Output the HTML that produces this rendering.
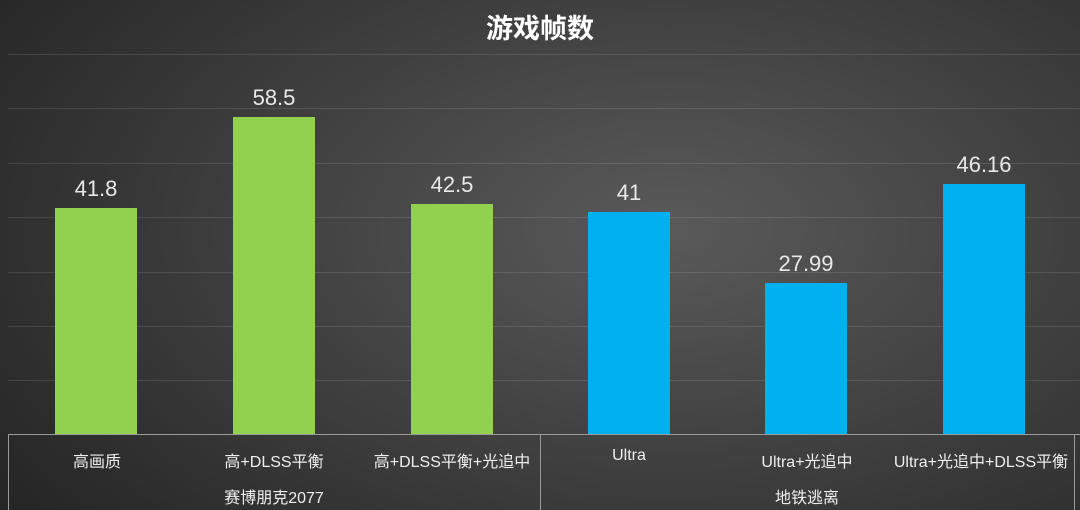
<!DOCTYPE html>
<html><head><meta charset="utf-8"><style>
body{margin:0}
.c{position:relative;width:1080px;height:510px;overflow:hidden;background:radial-gradient(ellipse 75% 90% at 62% 45%,#5a5a5a 0%,#404040 50%,#262626 100%);font-family:"Liberation Sans","Noto Sans CJK SC",sans-serif;color:#e6e6e6}
.g{position:absolute;left:8px;right:0;height:1px;background:rgba(255,255,255,0.11)}
.b{position:absolute;width:82px}
.v{position:absolute;width:120px;text-align:center;font-size:22px;color:#e8e8e8}
.l{position:absolute;width:178px;text-align:center;font-size:16px;color:#eee}
.vl{position:absolute;width:1px;background:#9a9a9a;top:435px;height:75px}
</style></head><body><div class="c">
<div style="position:absolute;left:0;width:1080px;top:7px;text-align:center;font-size:27px;font-weight:bold;color:#fff">游戏帧数</div>
<div class="g" style="top:54px"></div><div class="g" style="top:108px"></div><div class="g" style="top:163px"></div><div class="g" style="top:217px"></div><div class="g" style="top:272px"></div><div class="g" style="top:326px"></div><div class="g" style="top:380px"></div>
<div style="position:absolute;left:8px;right:0;top:434px;height:1px;background:#9a9a9a"></div>
<div class="vl" style="left:8px"></div><div class="vl" style="left:540px"></div><div class="vl" style="left:1074px"></div>

<div class="b" style="left:55px;top:208px;height:226px;background:#92d050"></div>
<div class="b" style="left:233px;top:117px;height:317px;background:#92d050"></div>
<div class="b" style="left:411px;top:204px;height:230px;background:#92d050"></div>
<div class="b" style="left:588px;top:212px;height:222px;background:#00b0f0"></div>
<div class="b" style="left:765px;top:283px;height:151px;background:#00b0f0"></div>
<div class="b" style="left:943px;top:184px;height:250px;background:#00b0f0"></div>

<div class="v" style="left:36px;top:176px">41.8</div>
<div class="v" style="left:214px;top:85px">58.5</div>
<div class="v" style="left:392px;top:172px">42.5</div>
<div class="v" style="left:569px;top:180px">41</div>
<div class="v" style="left:746px;top:251px">27.99</div>
<div class="v" style="left:924px;top:152px">46.16</div>

<div class="l" style="left:8px;top:448px">高画质</div>
<div class="l" style="left:185px;top:448px">高+DLSS平衡</div>
<div class="l" style="left:363px;top:448px">高+DLSS平衡+光追中</div>
<div class="l" style="left:540px;top:447px">Ultra</div>
<div class="l" style="left:718px;top:448px">Ultra+光追中</div>
<div class="l" style="left:881px;top:448px;width:200px">Ultra+光追中+DLSS平衡</div>
<div class="l" style="left:185px;top:484px">赛博朋克2077</div>
<div class="l" style="left:718px;top:484px">地铁逃离</div>
</div></body></html>
